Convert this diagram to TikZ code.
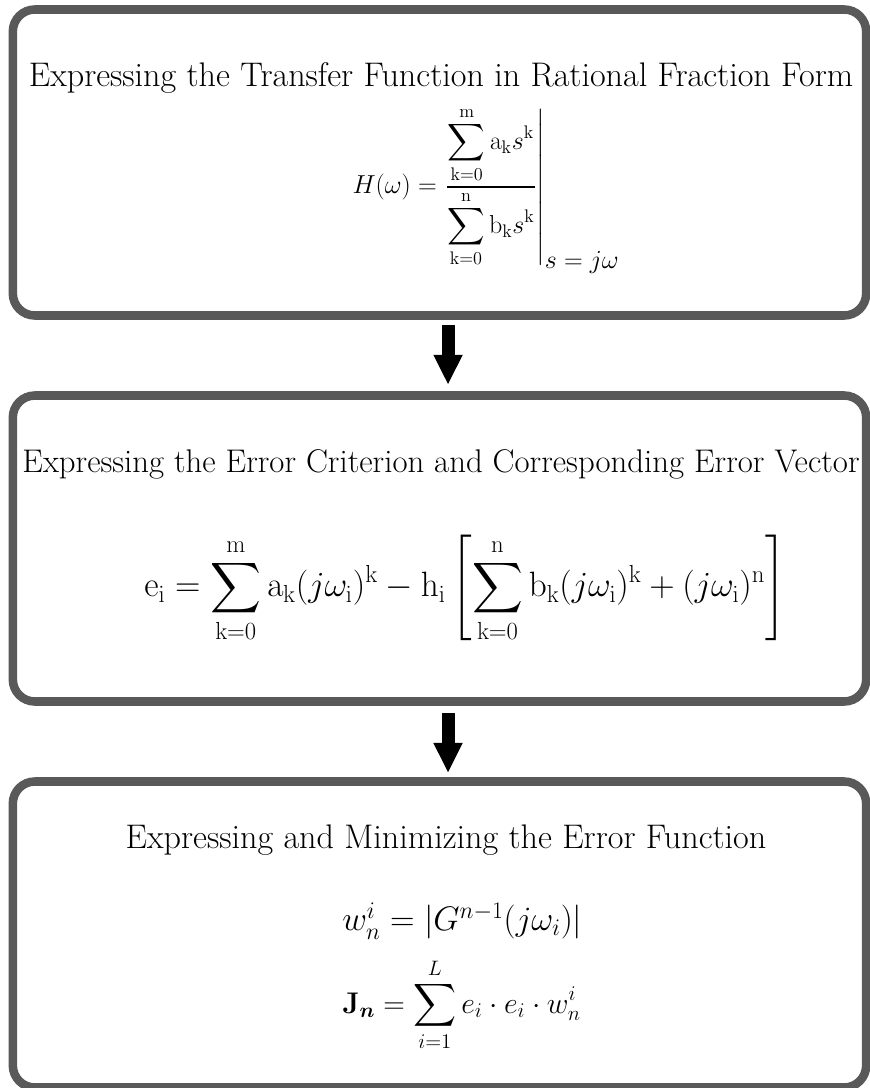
\RequirePackage{fix-cm}
\documentclass[tikz,border=0pt]{standalone}
\usepackage{amsmath,amssymb}
\usepackage{tikz}
\usetikzlibrary{arrows.meta, positioning, calc}
\definecolor{framegray}{HTML}{595959}
\tikzstyle{stage} = [draw=framegray, line width=6.4pt, rectangle, rounded corners=16.5pt, minimum width=640pt, minimum height=229.5pt, outer sep=0pt]
\tikzstyle{heading} = [font=\fontsize{25.6}{30}\selectfont, inner sep=0pt]
\tikzstyle{formula} = [inner sep=0pt]
\tikzstyle{arrow} = [line width=9.75pt, -{Triangle[length=22.5pt 0 0, width=20.25pt 0 0]}]

\begin{document}
\begin{tikzpicture}[x=0.75pt, y=-0.75pt]
    \useasboundingbox (0,0) rectangle (870,1088);
    \node (box1) [stage] at (439.5,162.5) {};
    \node (box2) [stage, below=60pt of box1] {};
    \node (box3) [stage, below=60pt of box2] {};

    % stage 1
    \node (title1) [heading, anchor=base] at (441,87) {Expressing the Transfer Function in Rational Fraction Form};
    \node (ratio) [formula, font=\fontsize{19.5}{23}\selectfont] at (486,190) {$H(\omega)=\left.\dfrac{\displaystyle\sum_{\mathrm{k=0}}^{\mathrm{m}}\mathrm{a_k}s^{\mathrm{k}}}{\displaystyle\sum_{\mathrm{k=0}}^{\mathrm{n}}\mathrm{b_k}s^{\mathrm{k}}}\right|_{\textstyle s=j\omega}$};

    % stage 2
    \node (title2) [heading, anchor=base, font=\fontsize{24.6}{30}\selectfont] at (441,472) {Expressing the Error Criterion and Corresponding Error Vector};
    \node (errvec) [formula, font=\fontsize{26.4}{30}\selectfont] at (465,589) {$\mathrm{e_i}=\displaystyle\sum_{\mathrm{k=0}}^{\mathrm{m}}\mathrm{a_k}(j\omega_{\mathrm{i}})^{\mathrm{k}}-\mathrm{h_i}\left[\sum_{\mathrm{k=0}}^{\mathrm{n}}\mathrm{b_k}(j\omega_{\mathrm{i}})^{\mathrm{k}}+(j\omega_{\mathrm{i}})^{\mathrm{n}}\right]$};

    % stage 3
    \node (title3) [heading, anchor=base] at (446,848) {Expressing and Minimizing the Error Function};
    \node (weight) [formula, anchor=west, font=\fontsize{25.5}{29}\selectfont] at (342,921) {$w_n^i=\lvert G^{n-1}(j\omega_i)\rvert$};
    \node (cost) [formula, anchor=west, font=\fontsize{22.4}{27}\selectfont] at (342,1005) {$\mathbf{J}_{\boldsymbol{n}}=\displaystyle\sum_{i=1}^{L}e_i\cdot e_i\cdot w_n^i$};

    \draw [arrow, shorten <=7pt, shorten >=8pt] ([xshift=6.4pt]box1.south) -- ([xshift=6.4pt]box2.north);
    \draw [arrow, shorten <=8.6pt, shorten >=6.4pt] ([xshift=6.4pt]box2.south) -- ([xshift=6.4pt]box3.north);
\end{tikzpicture}
\end{document}
